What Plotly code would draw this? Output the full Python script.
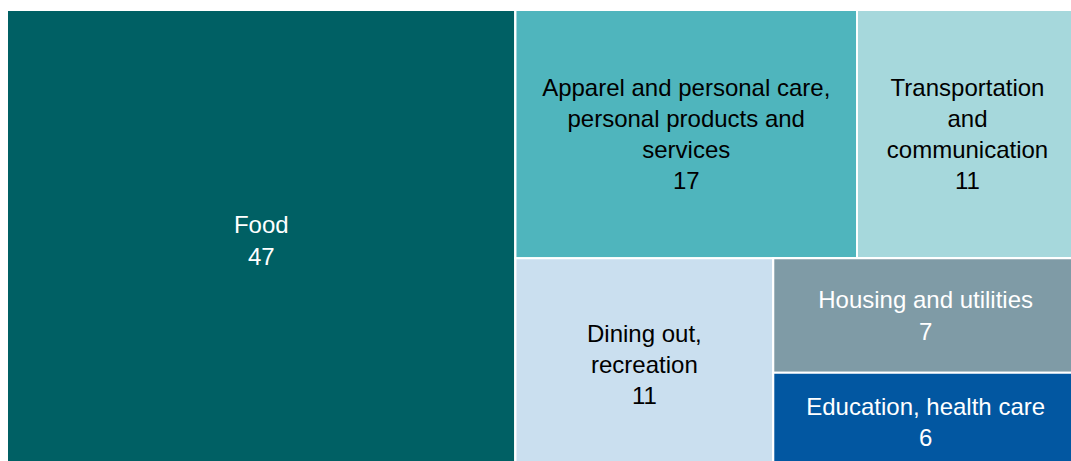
import plotly.graph_objects as go

# Data
categories = ["Food",
              "Apparel and personal care,<br>personal products and<br>services",
              "Transportation<br>and<br>communication",
              "Dining out,<br>recreation",
              "Housing and utilities",
              "Education, health care"]
values = [47, 17, 11, 11, 7, 6]
colors = ["#006064", "#4FB5BD", "#A6D8DC", "#CADFEF", "#7F9BA6", "#0257A1"]
text_colors = ["white", "black", "black", "black", "white", "white"]

# Grouping used only to arrange tiles as in the reference
leaf_ids = ["food", "apparel", "transport", "dining", "housing", "education"]
leaf_parents = ["root", "top", "top", "bottom", "b2", "b2"]
group_ids = ["root", "r", "top", "bottom", "b2"]
group_parents = ["", "root", "r", "r", "bottom"]

ids = group_ids + leaf_ids
parents = group_parents + leaf_parents
labels = [""] * len(group_ids) + categories
vals = [0] * len(group_ids) + values
mcolors = ["white"] * len(group_ids) + colors
tcolors = ["white"] * len(group_ids) + text_colors
templates = [""] * len(group_ids) + ["%{label}<br>%{value}"] * len(leaf_ids)

order_ids = ["root", "food", "r", "top", "apparel", "transport", "bottom", "dining", "b2", "housing", "education"]
idx = [ids.index(i) for i in order_ids]
ids = [ids[i] for i in idx]
parents = [parents[i] for i in idx]
labels = [labels[i] for i in idx]
vals = [vals[i] for i in idx]
mcolors = [mcolors[i] for i in idx]
tcolors = [tcolors[i] for i in idx]
templates = [templates[i] for i in idx]

fig = go.Figure(go.Treemap(
    ids=ids,
    parents=parents,
    labels=labels,
    values=vals,
    branchvalues="remainder",
    sort=False,
    marker=dict(colors=mcolors, line=dict(color="white", width=2),
                pad=dict(t=0, l=0, r=0, b=0)),
    tiling=dict(packing="slice-dice", pad=0),
    pathbar=dict(visible=False),
    texttemplate=templates,
    textposition="middle center",
    textfont=dict(family="Liberation Sans, Arial, sans-serif", size=24, color=tcolors),
    hoverinfo="skip",
    domain=dict(x=[0, 1], y=[0, 1]),
))

fig.update_layout(
    width=1078, height=471,
    margin=dict(l=7, r=0, t=10, b=0, pad=0),
    paper_bgcolor="white",
    showlegend=False,
)

fig.write_html(
    "out.html",
    config={"displayModeBar": False, "responsive": False},
    post_script="document.body.style.margin='0px';"
                "document.body.style.overflow='hidden';"
                "var gd=document.getElementById('{plot_id}');"
                "gd.style.width='1078px';gd.style.height='471px';"
                "Plotly.relayout(gd,{width:1078,height:471});",
)
